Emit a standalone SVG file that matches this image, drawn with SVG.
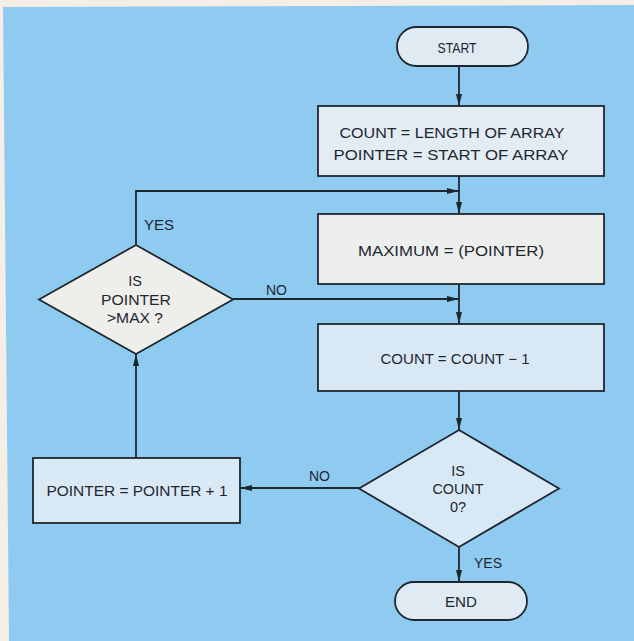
<svg xmlns="http://www.w3.org/2000/svg" width="634" height="641" viewBox="0 0 634 641">
<defs>
<marker id="arr" viewBox="0 0 12 8" refX="12" refY="4" markerWidth="12" markerHeight="8" markerUnits="userSpaceOnUse" orient="auto">
<path d="M0,1 L12,4 L0,7 Z" fill="#1e2730"/>
</marker>
<style>
.shape{stroke:#1e2730;stroke-width:1.8;}
.line{stroke:#1e2730;stroke-width:1.8;fill:none;}
.t{font-family:"Liberation Sans",Arial,sans-serif;font-size:14.5px;fill:#1e2730;text-anchor:middle;}
.lbl{font-family:"Liberation Sans",Arial,sans-serif;font-size:14px;fill:#1e2730;}
</style>
</defs>
<rect x="0" y="0" width="634" height="641" fill="#f4eee7"/>
<polygon points="3,7 634,5 634,641 9,641" fill="#8fcbf1"/>

<g id="connectors">
<line class="line" x1="459" y1="66" x2="459" y2="106" marker-end="url(#arr)"/>
<line class="line" x1="459" y1="176" x2="459" y2="214" marker-end="url(#arr)"/>
<polyline class="line" points="136,245 136,191 459,191" marker-end="url(#arr)"/>
<line class="line" x1="459" y1="284" x2="459" y2="324" marker-end="url(#arr)"/>
<line class="line" x1="233" y1="299" x2="459" y2="299" marker-end="url(#arr)"/>
<line class="line" x1="459" y1="391" x2="459" y2="430" marker-end="url(#arr)"/>
<line class="line" x1="459" y1="547" x2="459" y2="582" marker-end="url(#arr)"/>
<line class="line" x1="359" y1="488" x2="240" y2="488" marker-end="url(#arr)"/>
<line class="line" x1="136" y1="458" x2="136" y2="354" marker-end="url(#arr)"/>
<text class="lbl" x="144" y="230" textLength="30" lengthAdjust="spacingAndGlyphs">YES</text>
<text class="lbl" x="266" y="295" textLength="21" lengthAdjust="spacingAndGlyphs">NO</text>
<text class="lbl" x="309" y="481" textLength="21" lengthAdjust="spacingAndGlyphs">NO</text>
<text class="lbl" x="474" y="568" textLength="28" lengthAdjust="spacingAndGlyphs">YES</text>
</g>

<g id="start">
<rect class="shape" x="397" y="27" width="131" height="39" rx="19.5" ry="19.5" fill="#dfeaf3"/>
<text class="t" x="457" y="53" textLength="39" lengthAdjust="spacingAndGlyphs">START</text>
</g>

<g id="init">
<rect class="shape" x="318" y="106" width="286" height="70" fill="#e3ecf3"/>
<text class="t" x="452" y="138" textLength="225" lengthAdjust="spacingAndGlyphs">COUNT = LENGTH OF ARRAY</text>
<text class="t" x="451" y="160" textLength="235" lengthAdjust="spacingAndGlyphs">POINTER = START OF ARRAY</text>
</g>

<g id="maximum">
<rect class="shape" x="318" y="214" width="286" height="70" fill="#edefed"/>
<text class="t" x="451" y="256" textLength="186" lengthAdjust="spacingAndGlyphs">MAXIMUM = (POINTER)</text>
</g>

<g id="decrement">
<rect class="shape" x="318" y="324" width="286" height="67" fill="#d8e8f4"/>
<text class="t" x="455" y="364" textLength="149" lengthAdjust="spacingAndGlyphs">COUNT = COUNT − 1</text>
</g>

<g id="ismax">
<polygon class="shape" points="39,299.5 136,245 233,299.5 136,354" fill="#eeeeeb"/>
<text class="t" x="135" y="286">IS</text>
<text class="t" x="136" y="305" textLength="70" lengthAdjust="spacingAndGlyphs">POINTER</text>
<text class="t" x="135" y="323" textLength="56" lengthAdjust="spacingAndGlyphs">&gt;MAX ?</text>
</g>

<g id="iszero">
<polygon class="shape" points="359,488.5 459,430 559,488.5 459,547" fill="#d8e8f4"/>
<text class="t" x="458" y="476">IS</text>
<text class="t" x="458" y="494" textLength="51" lengthAdjust="spacingAndGlyphs">COUNT</text>
<text class="t" x="458" y="512">0?</text>
</g>

<g id="increment">
<rect class="shape" x="33" y="458" width="207" height="65" fill="#d9e9f5"/>
<text class="t" x="137" y="496" textLength="181" lengthAdjust="spacingAndGlyphs">POINTER = POINTER + 1</text>
</g>

<g id="end">
<rect class="shape" x="395" y="582" width="132" height="38" rx="19" ry="19" fill="#dfeaf3"/>
<text class="t" x="461" y="607" textLength="32" lengthAdjust="spacingAndGlyphs">END</text>
</g>
</svg>
